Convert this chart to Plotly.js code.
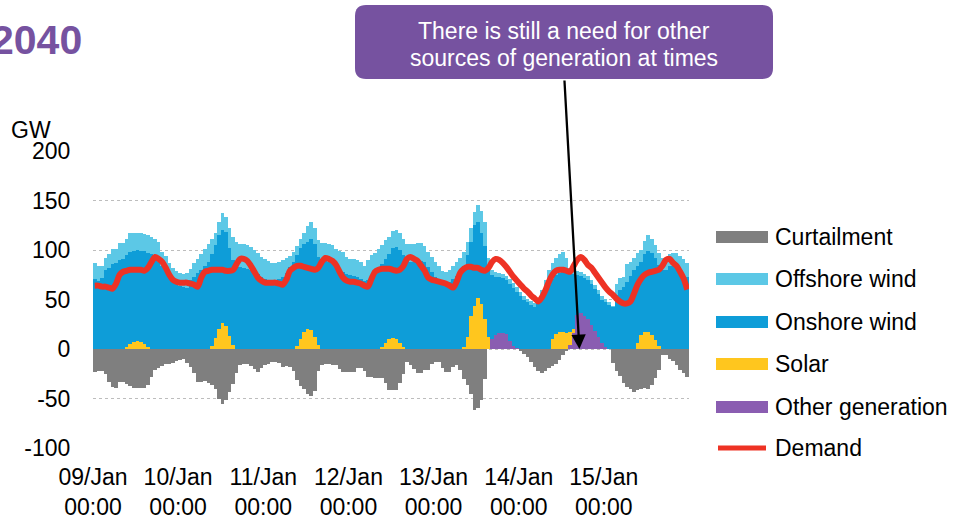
<!DOCTYPE html>
<html><head><meta charset="utf-8">
<script src="https://cdn.plot.ly/plotly-3.0.1.min.js"></script>
<style>html,body{margin:0;padding:0;background:#fff;}#chart{width:955px;height:518px;}</style>
</head><body><div id="chart"></div>
<script>
// Tick labels (one per day, 00:00)
const dayLabels = ["09/Jan","10/Jan","11/Jan","12/Jan","13/Jan","14/Jan","15/Jan"];
const timeLabel = "00:00";
const yTickValues = [-100, -50, 0, 50, 100, 150, 200];
const yTickLabels = ["-100", "-50", "0", "50", "100", "150", "200"];
const seriesNames = ["Curtailment","Offshore wind","Onshore wind","Solar","Other generation","Demand"];

// Hourly values, GW (168 hours from 09/Jan 00:00)
const otherGeneration = [
0,0,0,0,0,0,0,0,0,0,0,0,0,0,0,0,0,0,0,0,0,0,0,0,
0,0,0,0,0,0,0,0,0,0,0,0,0,0,0,0,0,0,0,0,0,0,0,0,
0,0,0,0,0,0,0,0,0,0,0,0,0,0,0,0,0,0,0,0,0,0,0,0,
0,0,0,0,0,0,0,0,0,0,0,0,0,0,0,0,0,0,0,0,0,0,0,0,
0,0,0,0,0,0,0,0,0,0,0,0,0,0,0,0,10,14,16,16,15,8,3,1,
0,0,0,0,0,0,0,0,0,0,0,0,0,0,4,16,34,36,33,30,24,18,12,6,
2,0,0,0,0,0,0,0,0,0,0,0,0,0,0,0,0,0,0,0,0,0,0,0];
const solar = [
0,0,0,0,0,0,0,0,0,2,5,7,8,7,5,2,0,0,0,0,0,0,0,0,
0,0,0,0,0,0,0,0,0,3,11,20,26,23,13,4,0,0,0,0,0,0,0,0,
0,0,0,0,0,0,0,0,0,3,10,17,20,19,12,4,0,0,0,0,0,0,0,0,
0,0,0,0,0,0,0,0,0,2,6,10,11,10,6,2,0,0,0,0,0,0,0,0,
0,0,0,0,0,0,0,0,2,12,33,43,52,45,30,12,0,0,0,0,0,0,0,0,
0,0,0,0,0,0,0,0,0,10,15,17,17,16,13,4,0,0,0,0,0,0,0,0,
0,0,0,0,0,0,0,0,0,6,14,17,17,14,9,3,0,0,0,0,0,0,0,0];
const onshoreWind = [
71,69,72,80,82,86,87,90,91,93,93,92,92,92,94,95,96,92,88,84,80,72,68,66,
64,63,62,70,73,77,80,84,88,93,94,95,94,95,89,86,85,83,82,81,80,78,76,73,
71,70,70,70,71,73,77,83,88,92,92,89,88,92,94,89,91,90,88,86,83,80,78,76,
75,74,73,71,69,70,75,78,82,84,85,86,91,93,94,93,89,88,88,89,89,88,83,78,
73,70,68,67,68,71,74,79,82,83,75,82,76,72,74,68,65,59,57,56,55,58,59,57,
54,50,47,44,42,45,52,59,65,61,60,60,61,61,60,56,41,38,39,40,42,43,44,44,
45,44,42,55,60,63,68,74,80,78,74,79,82,83,83,82,80,80,84,84,82,78,75,73];
const offshoreWind = [
16,15,12,12,14,15,14,17,16,16,19,18,17,18,17,18,17,19,20,14,14,15,14,13,
13,13,15,11,14,14,16,17,18,15,12,13,17,15,20,23,23,23,24,24,23,22,21,20,
20,19,17,17,17,17,15,11,10,9,9,11,16,17,16,17,16,17,18,19,18,19,20,17,
16,17,17,17,15,20,20,19,19,19,19,17,17,17,17,16,17,18,18,18,18,16,15,15,
15,14,11,11,12,13,14,13,14,13,14,13,17,22,24,12,5,5,4,4,4,5,5,5,
4,4,4,4,4,5,8,11,15,16,17,19,20,15,5,4,4,4,4,4,4,4,4,4,
4,3,1,11,12,10,18,14,12,13,12,13,16,14,13,12,12,11,12,13,15,16,16,14];
const curtailment = [
-23,-22,-22,-25,-33,-38,-39,-33,-33,-35,-37,-39,-39,-39,-39,-36,-28,-21,-19,-17,-15,-15,-14,-12,
-11,-10,-14,-18,-24,-33,-33,-32,-34,-36,-40,-50,-56,-52,-43,-35,-24,-16,-15,-15,-17,-20,-23,-19,
-16,-15,-13,-13,-14,-18,-17,-18,-22,-31,-37,-40,-45,-47,-42,-22,-16,-15,-15,-16,-16,-20,-23,-23,
-23,-23,-19,-19,-22,-28,-28,-29,-29,-29,-34,-41,-41,-41,-34,-25,-13,-16,-20,-24,-24,-21,-21,-15,
-13,-13,-19,-23,-23,-18,-16,-21,-30,-36,-45,-62,-60,-52,-30,0,0,0,0,0,0,0,0,0,
-2,-5,-8,-13,-18,-22,-24,-22,-19,-17,-15,-11,-6,-2,0,0,0,0,0,0,0,0,0,0,
0,0,-14,-22,-27,-34,-38,-40,-43,-41,-40,-39,-40,-36,-29,-21,-6,-6,-10,-12,-16,-21,-24,-28];
const demand = [
64,64,63,63,62,61,66,75,78,79,80,80,80,80,79,82,88,93,91,88,82,75,70,68,
67,67,67,66,65,63,72,78,79,80,80,80,80,79,79,80,86,91,91,89,84,78,72,69,
67,67,67,67,66,65,70,79,82,84,84,83,82,81,80,82,88,92,91,89,85,78,72,69,
68,68,67,66,64,63,71,78,80,81,81,81,80,79,80,84,91,93,91,89,84,79,72,70,
69,68,67,66,64,62,68,77,81,83,83,82,82,80,79,82,88,91,90,87,83,78,73,69,
65,61,58,54,51,48,52,59,68,75,79,80,80,79,78,84,90,93,90,85,82,77,72,67,
62,58,55,51,48,46,46,48,56,65,71,75,77,78,79,80,84,90,91,87,84,78,71,60];

const colors = {
  curtailment: "#7F7F7F", offshore: "#5CC8E6", onshore: "#0E9DD8",
  solar: "#FFC61E", other: "#8A5DB1", demand: "#EE3224", purple: "#7652A0"
};

const hours = demand.map((_, i) => i);
const tickVals = dayLabels.map((_, k) => k * 24 - 0.5);
const tickText = dayLabels.map(d => d + "<br>" + timeLabel);
const xRange = [-0.5, demand.length - 0.5];

function barTrace(name, y, color) {
  return {type: "bar", name: name, x: hours, y: y, marker: {color: color, line: {width: 0}},
          showlegend: false, hoverinfo: "skip"};
}
const traces = [
  barTrace(seriesNames[4], otherGeneration, colors.other),
  barTrace(seriesNames[3], solar, colors.solar),
  barTrace(seriesNames[2], onshoreWind, colors.onshore),
  barTrace(seriesNames[1], offshoreWind, colors.offshore),
  barTrace(seriesNames[0], curtailment, colors.curtailment),
  {type: "scatter", mode: "lines", name: seriesNames[5], x: hours, y: demand,
   line: {color: colors.demand, width: 6, shape: "spline", smoothing: 0.8},
   showlegend: false, hoverinfo: "skip"}
];

// pixel -> paper helpers
const W = 955, H = 518, ML = 93, MR = 266, MT = 151, MB = 70;
const PW = W - ML - MR, PH = H - MT - MB;
const fx = px => (px - ML) / PW;
const fy = py => (H - MB - py) / PH;

function roundRectPath(x0, y0, x1, y1, r) {
  const P = (x, y) => fx(x).toFixed(5) + "," + fy(y).toFixed(5);
  return "M" + P(x0 + r, y0) + " L" + P(x1 - r, y0) + " Q" + P(x1, y0) + " " + P(x1, y0 + r) +
         " L" + P(x1, y1 - r) + " Q" + P(x1, y1) + " " + P(x1 - r, y1) +
         " L" + P(x0 + r, y1) + " Q" + P(x0, y1) + " " + P(x0, y1 - r) +
         " L" + P(x0, y0 + r) + " Q" + P(x0, y0) + " " + P(x0 + r, y0) + " Z";
}

const font = {family: "Liberation Sans, Arial, sans-serif", size: 23, color: "#000"};

const legendRows = [237, 279, 322, 364, 407, 448];
const legendColors = [colors.curtailment, colors.offshore, colors.onshore, colors.solar, colors.other];

const shapes = [
  {type: "path", xref: "paper", yref: "paper", path: roundRectPath(355, 5, 773, 79, 11),
   fillcolor: colors.purple, line: {width: 0}, layer: "above"}
];
legendColors.forEach((c, k) => {
  shapes.push({type: "rect", xref: "paper", yref: "paper",
    x0: fx(716), x1: fx(768), y0: fy(legendRows[k] + 6), y1: fy(legendRows[k] - 6),
    fillcolor: c, line: {width: 0}});
});
shapes.push({type: "line", xref: "paper", yref: "paper",
  x0: fx(718), x1: fx(766), y0: fy(448), y1: fy(448),
  line: {color: colors.demand, width: 5}});

const annotations = [
  {xref: "paper", yref: "paper", x: fx(84), y: fy(40), xanchor: "right", yanchor: "middle",
   text: "<b>2040</b>", showarrow: false, font: {family: font.family, size: 41, color: colors.purple}},
  {xref: "paper", yref: "paper", x: fx(9), y: fy(130), xanchor: "left", yanchor: "middle",
   text: "GW", showarrow: false, font: font},
  {xref: "paper", yref: "paper", x: fx(564), y: fy(31), xanchor: "center", yanchor: "middle",
   text: "There is still a need for other", showarrow: false,
   font: {family: font.family, size: 23, color: "#fff"}},
  {xref: "paper", yref: "paper", x: fx(564), y: fy(58), xanchor: "center", yanchor: "middle",
   text: "sources of generation at times", showarrow: false,
   font: {family: font.family, size: 23, color: "#fff"}},
  {xref: "x", yref: "y", x: 136.6, y: 0, text: "", showarrow: true,
   ax: -15, ay: -270, arrowhead: 2, arrowsize: 1.25, arrowwidth: 2.3, arrowcolor: "#000", standoff: 0}
];
seriesNames.forEach((n, k) => {
  annotations.push({xref: "paper", yref: "paper", x: fx(773), y: fy(legendRows[k]),
    xanchor: "left", yanchor: "middle", text: n, showarrow: false, font: font});
});

const layout = {
  width: W, height: H,
  margin: {l: ML, r: MR, t: MT, b: MB, pad: 0},
  paper_bgcolor: "#fff", plot_bgcolor: "#fff",
  font: font,
  barmode: "relative", bargap: 0,
  showlegend: false, hovermode: false,
  xaxis: {range: xRange, tickvals: tickVals, ticktext: tickText, showgrid: false, zeroline: false,
          showline: false, ticks: "outside", ticklen: 8, tickcolor: "rgba(0,0,0,0)",
          tickfont: font, fixedrange: true},
  xaxis2: {overlaying: "x", anchor: "free", position: 1 / 3, side: "bottom", range: xRange,
           tickvals: tickVals, showticklabels: false, ticks: "outside", ticklen: 6, tickwidth: 1.5,
           tickcolor: "#BFBFBF", showline: true, linecolor: "#BFBFBF", linewidth: 1.5,
           showgrid: false, zeroline: false, fixedrange: true},
  yaxis: {range: [-100, 200], tickvals: yTickValues, ticktext: yTickLabels,
          showgrid: true, gridcolor: "#BDBDBD", griddash: "dot", gridwidth: 1,
          zeroline: false, showline: false, ticks: "outside", ticklen: 17,
          tickcolor: "rgba(0,0,0,0)", tickfont: font, fixedrange: true},
  shapes: shapes,
  annotations: annotations
};

Plotly.newPlot("chart", traces, layout, {displayModeBar: false, staticPlot: true});
</script>
</body></html>
